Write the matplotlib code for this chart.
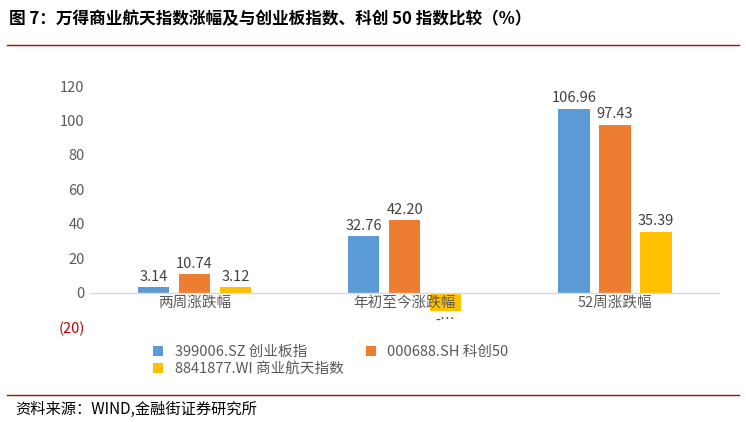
import matplotlib.pyplot as plt
import numpy as np
plt.rcParams['font.family'] = ['Noto Sans CJK SC', 'DejaVu Sans']

categories = ['两周涨跌幅', '年初至今涨跌幅', '52周涨跌幅']
series_names = ['399006.SZ 创业板指', '000688.SH 科创50', '8841877.WI 商业航天指数']
s1 = [3.14, 32.76, 106.96]
s2 = [10.74, 42.20, 97.43]
s3 = [3.12, -10.5, 35.39]
labels3 = ['3.12', '-…', '35.39']
colors = ['#5B9BD5', '#ED7D31', '#FFC000']

fig = plt.figure(figsize=(7.46, 4.22), dpi=100)
fig.text(0.012, 0.955, '图 7：万得商业航天指数涨幅及与创业板指数、科创 50 指数比较（%）',
         fontsize=12, fontweight='bold', va='center')
fig.add_artist(plt.Line2D([0.01, 0.99], [0.893, 0.893], color='#C00000', lw=1))
fig.add_artist(plt.Line2D([0.01, 0.99], [0.063, 0.063], color='#C00000', lw=1))
fig.text(0.02, 0.03, '资料来源：WIND,金融街证券研究所', fontsize=11, style='italic', va='center')

ax = fig.add_axes([0.12, 0.225, 0.845, 0.571])
x = np.arange(len(categories))
w = 0.15
handles = []
for i, (vals, c, n) in enumerate(zip([s1, s2, s3], colors, series_names)):
    bars = ax.bar(x + (i - 1) * 0.195, vals, w, color=c, label=n)
    handles.append(bars)
    labs = labels3 if i == 2 else [f'{v:.2f}' for v in vals]
    for b, v, l in zip(bars, vals, labs):
        y = v + 2 if v >= 0 else v - 2
        ax.text(b.get_x() + b.get_width() / 2, y, l, ha='center',
                va='bottom' if v >= 0 else 'top', fontsize=10.5, color='#404040')
ax.axhline(0, color='#D9D9D9', lw=1)
for i, c in enumerate(categories):
    ax.text(i, -6, c, ha='center', va='center', fontsize=10.5, color='#595959')
ax.set_ylim(-20, 120)
ax.set_xlim(-0.5, 2.5)
ax.set_yticks(range(-20, 121, 20))
ax.set_yticklabels(['(20)'] + [str(v) for v in range(0, 121, 20)], fontsize=10.5, color='#595959')
ax.get_yticklabels()[0].set_color('#C00000')
ax.set_xticks([])
ax.tick_params(axis='y', length=0)
for s in ax.spines.values():
    s.set_visible(False)
order = [0, 2, 1]
ax.legend([handles[k] for k in order], [series_names[k] for k in order],
          loc='upper left', bbox_to_anchor=(0.08, -0.02), ncol=2, frameon=False,
          fontsize=10.5, handlelength=0.7, handleheight=0.7, columnspacing=1.5,
          labelspacing=0.2, labelcolor='#595959')
fig.savefig('out.png', dpi=100)
